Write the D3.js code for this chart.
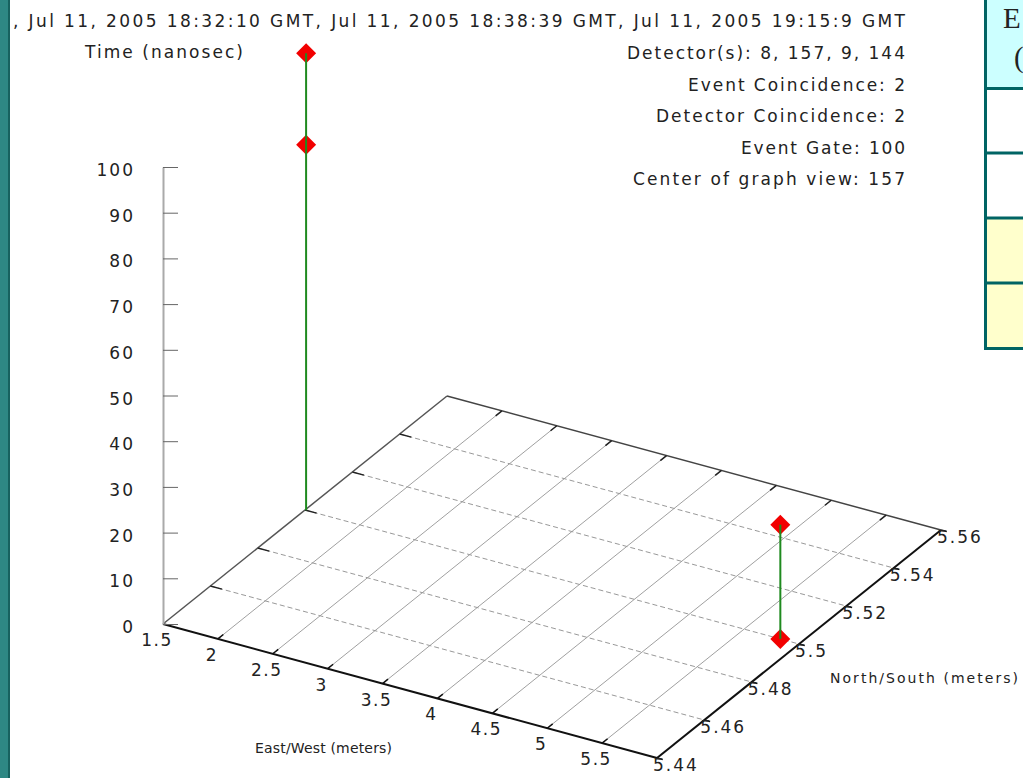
<!DOCTYPE html>
<meta charset="utf-8">
<style>
body{ margin:0; background:#fff; overflow:hidden; }
svg text{ font-family:"DejaVu Sans", sans-serif; fill:#222; }
</style>
<body>
<script src="https://d3js.org/d3.v7.min.js"></script>
<script>

// ---- data ----
var ewTicks  = [1.5, 2, 2.5, 3, 3.5, 4, 4.5, 5, 5.5, 6],
    ewLabels = ["1.5", "2", "2.5", "3", "3.5", "4", "4.5", "5", "5.5", ""],
    nsTicks  = [5.44, 5.46, 5.48, 5.5, 5.52, 5.54, 5.56],
    nsLabels = ["5.44", "5.46", "5.48", "5.5", "5.52", "5.54", "5.56"],
    timeTicks = [0, 10, 20, 30, 40, 50, 60, 70, 80, 90, 100];

// hits: east/west, north/south (meters), time (nanosec)
var hitEW   = [1.51, 1.51, 5.83, 5.83],
    hitNS   = [5.5, 5.5, 5.5, 5.5],
    hitTime = [80, 100, 0, 25];

var titleLine = ", Jul 11, 2005 18:32:10 GMT, Jul 11, 2005 18:38:39 GMT, Jul 11, 2005 19:15:9 GMT";
var infoLines = ["Detector(s): 8, 157, 9, 144", "Event Coincidence: 2",
                 "Detector Coincidence: 2", "Event Gate: 100", "Center of graph view: 157"];
var infoWidths = [278, 217, 249, 164, 272];
var axisTitles = ["Time (nanosec)", "East/West (meters)", "North/South (meters)"];
var tableHead = ["E", "("];

var W = 1023, H = 778;
var svg = d3.select("body").append("svg").attr("width", W).attr("height", H);

// oblique projection of the floor (ew, ns) plus height (time)
var ewX = d3.scaleLinear().domain([1.5, 6]).range([163, 657]),
    ewY = d3.scaleLinear().domain([1.5, 6]).range([0, 134]),
    nsX = d3.scaleLinear().domain([5.44, 5.56]).range([0, 284]),
    nsY = d3.scaleLinear().domain([5.44, 5.56]).range([624, 396]),
    tY  = d3.scaleLinear().domain([0, 100]).range([624, 167]);

function proj(e, n, t) {
  return [ewX(e) + nsX(n), nsY(n) + ewY(e) + (tY(t || 0) - tY(0))];
}
// point len pixels from a towards b
function dir(a, b, len) {
  var dx = b[0] - a[0], dy = b[1] - a[1], l = Math.sqrt(dx * dx + dy * dy);
  return [a[0] + dx / l * len, a[1] + dy / l * len];
}
function seg(g, a, b, color, w, dash) {
  g.append("line")
    .attr("x1", a[0]).attr("y1", a[1]).attr("x2", b[0]).attr("y2", b[1])
    .attr("stroke", color).attr("stroke-width", w)
    .attr("stroke-dasharray", dash || null);
}

var floor = svg.append("g");

// grid lines parallel to N/S
ewTicks.forEach(function(e, i) {
  var a = proj(e, 5.44), b = proj(e, 5.56);
  if (i === 0) seg(floor, a, b, "#555", 1.5);
  else if (i === ewTicks.length - 1) seg(floor, a, b, "#111", 2);
  else seg(floor, a, b, "#a0a0a0", 1);
});
// grid lines parallel to E/W
nsTicks.forEach(function(n, i) {
  var a = proj(1.5, n), b = proj(6, n);
  if (i === 0) seg(floor, a, b, "#111", 2);
  else if (i === nsTicks.length - 1) seg(floor, a, b, "#444", 1.5);
  else seg(floor, a, b, "#999", 1, "5,3");
});

// small tick marks on the four floor edges
ewTicks.slice(1, -1).forEach(function(e) {
  var a = proj(e, 5.44);
  seg(floor, a, dir(a, proj(e, 5.56), 7), "#111", 1.5);
  var b = proj(e, 5.56);
  seg(floor, b, dir(b, proj(e, 5.44), 8), "#222", 1.5);
});
nsTicks.slice(1, -1).forEach(function(n) {
  var a = proj(1.5, n);
  seg(floor, a, dir(a, proj(6, n), 12), "#222", 1.5);
});
nsTicks.forEach(function(n) {
  var a = proj(6, n);
  seg(floor, a, dir(a, proj(1.5, n), -6), "#111", 1.5);
});

// floor tick labels
floor.selectAll(".ewl").data(ewTicks).enter().append("text")
  .attr("x", function(d) { return proj(d, 5.44)[0] - 6; })
  .attr("y", function(d) { return proj(d, 5.44)[1] + 22; })
  .attr("text-anchor", "middle").style("font-size", "17px").style("letter-spacing", "1.5px")
  .text(function(d, i) { return ewLabels[i]; });
floor.selectAll(".nsl").data(nsTicks).enter().append("text")
  .attr("x", function(d) { return proj(6, d)[0] - 4; })
  .attr("y", function(d) { return proj(6, d)[1] + 13; })
  .style("font-size", "17px").style("letter-spacing", "2px")
  .text(function(d, i) { return nsLabels[i]; });

// vertical time axis
var yAxis = d3.axisLeft(tY).tickValues(timeTicks).tickSizeInner(-15)
  .tickSizeOuter(0).tickPadding(30);
var ya = svg.append("g").attr("transform", "translate(" + ewX(1.5) + ",0)").call(yAxis);
ya.select(".domain").attr("stroke", "#aaa").attr("stroke-width", 2);
ya.selectAll(".tick line").attr("stroke", "#666");
ya.selectAll(".tick text").attr("dy", "0.5em").style("font-size", "17px")
  .style("letter-spacing", "2px").attr("dx", "2px")
  .attr("fill", "#222").style("font-family", "DejaVu Sans");

// hits: stems from floor to highest hit of each location, diamonds at each hit
var hits = hitEW.map(function(e, i) { return {e: e, n: hitNS[i], t: hitTime[i]}; });
var stems = Array.from(d3.rollup(hits, function(v) { return d3.max(v, function(d) { return d.t; }); },
  function(d) { return d.e + "|" + d.n; }), function(kv) {
  var p = kv[0].split("|"); return {e: +p[0], n: +p[1], t: kv[1]};
});
svg.selectAll(".hit").data(hits).enter().append("path")
  .attr("d", d3.symbol(d3.symbolSquare, 200))
  .attr("fill", "#f20000")
  .attr("transform", function(d) { var p = proj(d.e, d.n, d.t); return "translate(" + p + ") rotate(45)"; });
stems.forEach(function(s) {
  seg(svg, proj(s.e, s.n, s.t), proj(s.e, s.n, 0), "#1f8a1f", 2);
});

// texts
function fitText(x, y, str, w, size) {
  return svg.append("text").attr("x", x).attr("y", y).style("font-size", size + "px")
    .attr("textLength", w).attr("lengthAdjust", "spacing").text(str);
}
fitText(13, 27, titleLine, 892, 17);
infoLines.forEach(function(s, i) {
  fitText(905 - infoWidths[i], 59 + i * 31.5, s, infoWidths[i], 17);
});
fitText(85, 58, axisTitles[0], 158, 17);
fitText(255, 753, axisTitles[1], 137, 14);
fitText(830, 683, axisTitles[2], 188, 14);

// table peeking in on the right
var tb = svg.append("g");
var rowY = [0, 88.5, 153, 218, 283, 348.5],
    rowFill = ["#ccffff", "#ffffff", "#ffffff", "#ffffcc", "#ffffcc"];
rowFill.forEach(function(c, i) {
  tb.append("rect").attr("x", 986).attr("y", rowY[i]).attr("width", W - 986)
    .attr("height", rowY[i + 1] - rowY[i]).attr("fill", c);
});
rowY.slice(1).forEach(function(y) { seg(tb, [984.5, y], [W, y], "#006464", 3); });
seg(tb, [985.5, 0], [985.5, 350], "#006464", 3);
tb.append("text").attr("x", 1003).attr("y", 28).text(tableHead[0])
  .style("font-family", "Liberation Serif").style("font-size", "29px").attr("fill", "#005c5c");
tb.append("text").attr("x", 1014).attr("y", 67).text(tableHead[1])
  .style("font-family", "Liberation Serif").style("font-size", "29px").attr("fill", "#005c5c");

// slide background strip on the left
svg.append("rect").attr("x", 0).attr("y", 0).attr("width", 9).attr("height", H).attr("fill", "#2e8884");
seg(svg, [9, 0], [9, H], "#17625f", 2);
</script>
